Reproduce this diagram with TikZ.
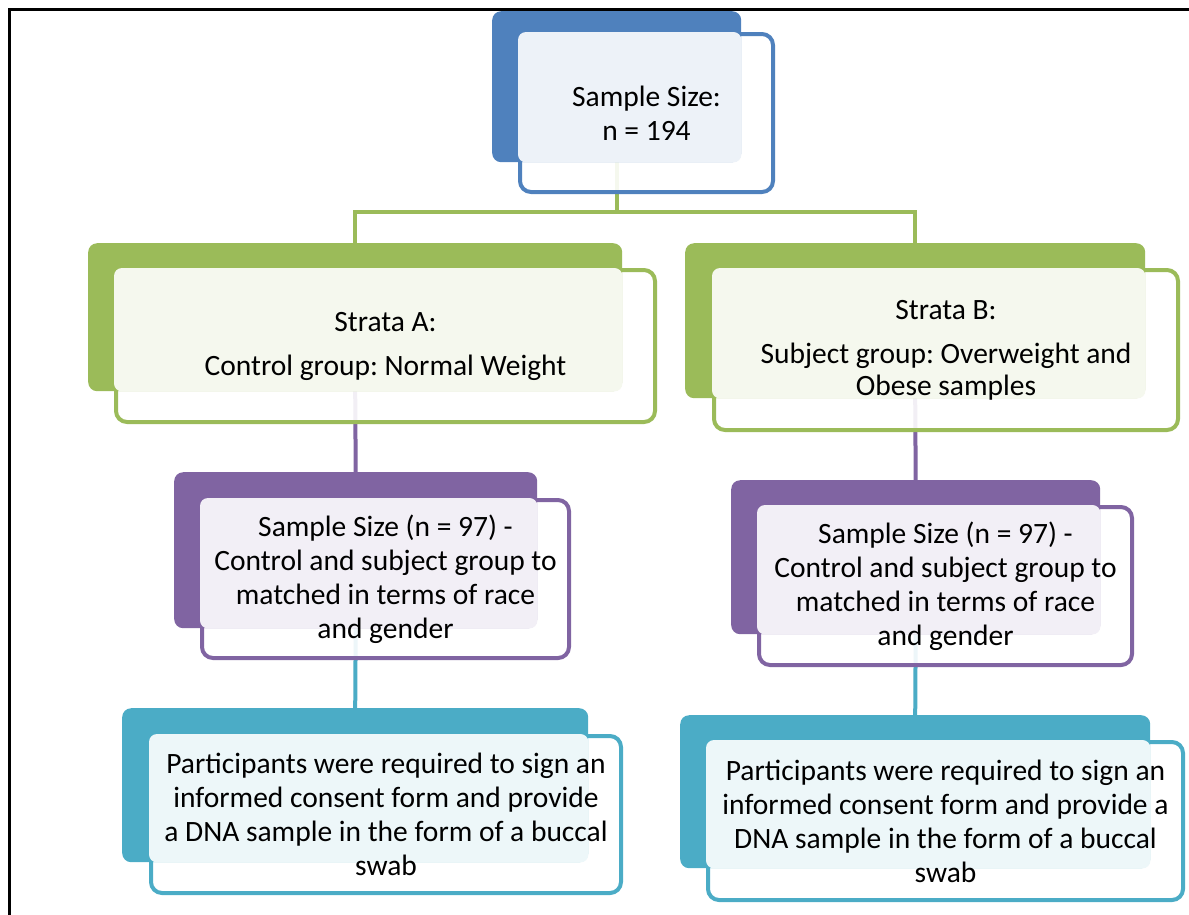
\documentclass[tikz,border=0pt]{standalone}
\usepackage{fontspec}
\setmainfont{Carlito}
\usetikzlibrary{backgrounds}
\frenchspacing

\definecolor{sablue}{HTML}{4F81BD}
\definecolor{sagreen}{HTML}{9BBB59}
\definecolor{sapurple}{HTML}{8064A2}
\definecolor{sacyan}{HTML}{4BACC6}

\begin{document}
\begin{tikzpicture}[x=1pt, y=-1pt,
    back/.style={rectangle, rounded corners=9pt, inner sep=0pt,
                anchor=north west, fill=#1},
    front/.style={rectangle, rounded corners=11pt, inner sep=0pt,
                anchor=north west, draw=#1, line width=4pt,
                fill=white, fill opacity=0.9, draw opacity=1},
    tint/.style={fill=#1!10, rounded corners=8pt},
    txt/.style={align=center, font=\fontsize{29.5}{34}\selectfont},
    link/.style={draw=#1, line width=4pt},
]
\useasboundingbox (0,0) rectangle (1189,914);

% --- Frame ---
\draw[line width=3pt] (9.5,9.5) rectangle (1210,940);

% --- Sample size ---
\node[front=sablue, minimum width=253pt, minimum height=158pt] (top) at (518,32) {};
\node[back=sablue, minimum width=249pt, minimum height=151pt] (topbk) at (492,11) {};
\fill[tint=sablue] (top.north west) rectangle (topbk.south east);
\node[txt] (toptxt) at (top.center) {Sample Size:\\n = 194};

% --- Strata ---
\node[front=sagreen, minimum width=539pt, minimum height=152pt] (strA) at (114,268) {};
\node[back=sagreen, minimum width=534pt, minimum height=148pt] (strAbk) at (88,243) {};
\fill[tint=sagreen] (strA.north west) rectangle (strAbk.south east);
\node[txt] (strAtxt) at (strA.center) {Strata A:\\[10pt]Control group: Normal Weight};

\node[front=sagreen, minimum width=464pt, minimum height=160pt] (strB) at (712,268) {};
\node[back=sagreen, minimum width=460pt, minimum height=155pt] (strBbk) at (685,243) {};
\fill[tint=sagreen] (strB.north west) rectangle (strBbk.south east);
\node[txt] (strBtxt) at (strB.center) {Strata B:\\[10pt]Subject group: Overweight and\\[-2pt]Obese samples};

% --- Sample size per stratum ---
\node[front=sapurple, minimum width=367pt, minimum height=158pt] (smpA) at (200,498) {};
\node[back=sapurple, minimum width=363pt, minimum height=156pt] (smpAbk) at (174,472) {};
\fill[tint=sapurple] (smpA.north west) rectangle (smpAbk.south east);
\node[txt] (smpAtxt) at (smpA.center) {Sample Size (n = 97) -\\Control and subject group to\\matched in terms of race\\and gender};

\node[front=sapurple, minimum width=373pt, minimum height=158pt] (smpB) at (757,505) {};
\node[back=sapurple, minimum width=369pt, minimum height=154pt] (smpBbk) at (731,480) {};
\fill[tint=sapurple] (smpB.north west) rectangle (smpBbk.south east);
\node[txt] (smpBtxt) at (smpB.center) {Sample Size (n = 97) -\\Control and subject group to\\matched in terms of race\\and gender};

% --- Consent ---
\node[front=sacyan, minimum width=470pt, minimum height=157pt] (conA) at (149,734) {};
\node[back=sacyan, minimum width=466pt, minimum height=154pt] (conAbk) at (122,708) {};
\fill[tint=sacyan] (conA.north west) rectangle (conAbk.south east);
\node[txt] (conAtxt) at (conA.center) {Participants were required to sign an\\informed consent form and provide\\a DNA sample in the form of a buccal\\swab};

\node[front=sacyan, minimum width=475pt, minimum height=158pt] (conB) at (706,740) {};
\node[back=sacyan, minimum width=470pt, minimum height=153pt] (conBbk) at (680,715) {};
\fill[tint=sacyan] (conB.north west) rectangle (conBbk.south east);
\node[txt] (conBtxt) at (conB.center) {Participants were required to sign an\\informed consent form and provide a\\DNA sample in the form of a buccal\\swab};

% --- Connectors ---
\begin{scope}[on background layer]
\draw[link=sagreen] (topbk.south) -- ++(0,50) -| (strAbk.north);
\draw[link=sagreen] (topbk.south) -- ++(0,50) -| (strBbk.north);
\draw[link=sapurple] (strAbk.south) -- (smpAbk.north);
\draw[link=sapurple] (strBbk.south) -- (smpBbk.north);
\draw[link=sacyan] (smpAbk.south) -- (conAbk.north);
\draw[link=sacyan] (smpBbk.south) -- (conBbk.north);
\end{scope}

\end{tikzpicture}
\end{document}
